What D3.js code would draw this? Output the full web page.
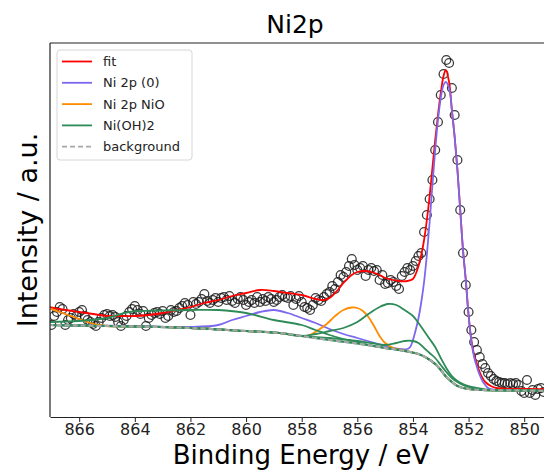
<!DOCTYPE html>
<html>
<head>
<meta charset="utf-8">
<script src="https://cdn.jsdelivr.net/npm/d3@7"></script>
<style>
  body { margin: 0; background: #fff; }
  text { font-family: "DejaVu Sans", sans-serif; }
</style>
</head>
<body>
<svg id="chart" width="544" height="472"></svg>
<script>
// measured points (binding energy / eV, intensity / a.u.)
const pointE = [
  867.0, 866.9, 866.8, 866.7, 866.6, 866.5, 866.4, 866.3, 866.2, 866.1,
  866.0, 865.9, 865.8, 865.7, 865.6, 865.5, 865.4, 865.3, 865.2, 865.1,
  865.0, 864.9, 864.8, 864.7, 864.6, 864.5, 864.4, 864.3, 864.2, 864.1,
  864.0, 863.9, 863.8, 863.7, 863.6, 863.5, 863.4, 863.3, 863.2, 863.1,
  863.0, 862.9, 862.8, 862.7, 862.6, 862.5, 862.4, 862.3, 862.2, 862.1,
  862.0, 861.9, 861.8, 861.7, 861.6, 861.5, 861.4, 861.3, 861.2, 861.1,
  861.0, 860.9, 860.8, 860.7, 860.6, 860.5, 860.4, 860.3, 860.2, 860.1,
  860.0, 859.9, 859.8, 859.7, 859.6, 859.5, 859.4, 859.3, 859.2, 859.1,
  859.0, 858.9, 858.8, 858.7, 858.6, 858.5, 858.4, 858.3, 858.2, 858.1,
  858.0, 857.9, 857.8, 857.7, 857.6, 857.5, 857.4, 857.3, 857.2, 857.1,
  857.0, 856.9, 856.8, 856.7, 856.6, 856.5, 856.4, 856.3, 856.2, 856.1,
  856.0, 855.9, 855.8, 855.7, 855.6, 855.5, 855.4, 855.3, 855.2, 855.1,
  855.0, 854.9, 854.8, 854.7, 854.6, 854.5, 854.4, 854.3, 854.2, 854.1,
  854.0, 853.9, 853.8, 853.7, 853.6, 853.5, 853.4, 853.3, 853.2, 853.1,
  853.0, 852.9, 852.8, 852.7, 852.6, 852.5, 852.4, 852.3, 852.2, 852.1,
  852.0, 851.9, 851.8, 851.7, 851.6, 851.5, 851.4, 851.3, 851.2, 851.1,
  851.0, 850.9, 850.8, 850.7, 850.6, 850.5, 850.4, 850.3, 850.2, 850.1,
  850.0, 849.9, 849.8, 849.7, 849.6, 849.5, 849.4, 849.3
];
const pointI = [
  92, 101, 105, 110, 108, 92, 97, 99, 103, 101,
  105, 107, 101, 97, 95, 93, 91, 95, 99, 102,
  103, 101, 102, 100, 95, 91, 97, 101, 105, 108,
  111, 107, 103, 106, 91, 99, 102, 104, 105, 103,
  106, 99, 101, 107, 105, 106, 109, 111, 114, 112,
  102, 115, 113, 115, 118, 123, 116, 114, 117, 119,
  115, 119, 120, 117, 121, 116, 114, 118, 120, 117,
  112, 115, 117, 114, 120, 115, 118, 116, 120, 118,
  115, 117, 120, 122, 120, 119, 121, 112, 118, 121,
  115, 110, 109, 107, 112, 119, 117, 116, 120, 123,
  125, 131, 128, 135, 142, 140, 145, 151, 158, 152,
  147, 149, 151, 141, 147, 149, 146, 147, 137, 142,
  133, 134, 137, 135, 131, 128, 141, 145, 149, 147,
  151, 156, 161, 164, 185, 202, 218, 237, 267, 295,
  322, 343, 357, 354, 329, 302, 257, 207, 164, 132,
  105, 87, 75, 67, 60, 53, 49, 44, 41, 38,
  36, 35, 34, 34, 33, 34, 33, 34, 32, 26,
  24, 37, 24, 27, 22, 28, 29, 25
];

// fitted curves, [energy, intensity]
const fitCurve = [
  [867.1, 110], [866.5, 107], [866, 105], [865.5, 103], [865, 101], [864.5, 101],
  [864, 101], [863.5, 102], [863, 104], [862.5, 107], [862, 110], [861.5, 114],
  [861, 117], [860.5, 121], [860, 124], [859.5, 127], [859, 126], [858.5, 124],
  [858, 122], [857.5, 118], [857.2, 117], [857, 119], [856.7, 127], [856.5, 134],
  [856.2, 142], [856, 145], [855.7, 146], [855.5, 145], [855.2, 142], [855, 139],
  [854.5, 136], [854.2, 136], [854, 138], [853.9, 143], [853.8, 151], [853.7, 162],
  [853.6, 177], [853.5, 197], [853.4, 221], [853.3, 249], [853.2, 277], [853.1, 302],
  [853, 324], [852.9, 341], [852.82, 347], [852.7, 335], [852.6, 307], [852.5, 280],
  [852.4, 247], [852.3, 207], [852.2, 167], [852.1, 137], [852, 102], [851.9, 77],
  [851.8, 62], [851.7, 53], [851.6, 45], [851.5, 39], [851.4, 35], [851.2, 31],
  [851, 29], [850, 28], [849, 28]
];
const ni0Curve = [
  [867.1, 92], [864, 91], [862, 90], [861, 92], [860.5, 97], [860, 101],
  [859.5, 105], [859, 107], [858.5, 104], [858, 99], [857.5, 94], [857, 88],
  [856.5, 83], [856, 79], [855.5, 75], [855, 71], [854.5, 68], [854.2, 68],
  [854.1, 70], [854, 77], [853.9, 87], [853.8, 99], [853.7, 115], [853.6, 135],
  [853.5, 162], [853.4, 195], [853.3, 232], [853.2, 267], [853.1, 297], [853, 319],
  [852.9, 332], [852.82, 335], [852.7, 329], [852.6, 307], [852.5, 280], [852.4, 247],
  [852.3, 207], [852.2, 167], [852.1, 137], [852, 102], [851.9, 76], [851.8, 60],
  [851.7, 50], [851.6, 42], [851.5, 36], [851.4, 32], [851.3, 29], [851.2, 28],
  [851, 27], [850, 26.5], [849, 26]
];
const nioCurve = [
  [867.1, 109], [866.7, 105], [866.3, 101], [866, 98], [865.7, 95], [865.4, 92.5],
  [865, 91], [864, 90.5], [862, 89], [860, 86], [858.8, 84], [858, 81],
  [857.7, 82], [857.4, 87], [857.1, 93], [856.8, 101], [856.5, 107], [856.2, 109.5],
  [856, 109], [855.8, 106], [855.6, 100], [855.4, 91], [855.2, 81], [855, 74],
  [854.7, 69], [854.4, 67], [854.1, 65], [853.8, 63], [853.5, 59], [853.2, 53],
  [853, 47], [852.8, 40], [852.6, 35], [852.4, 31], [852.2, 29], [852, 28],
  [851.5, 27], [850, 26.5], [849, 26]
];
const ohCurveA = [
  [867.1, 95], [866, 96], [865, 99], [864.2, 105], [863, 106.5], [862, 107],
  [861, 107], [860, 104], [859, 97], [858, 92], [857.5, 87], [857, 82],
  [856.5, 78], [856, 75], [855.5, 71.5], [855, 69], [854.5, 67], [853.8, 63],
  [853.5, 59], [853.2, 53], [853, 47], [852.8, 40], [852.6, 35], [852.4, 31],
  [852.2, 29], [852, 28], [851.5, 27], [850, 26.5], [849, 26]
];
const ohCurveB = [
  [867.1, 92], [864, 90.5], [862, 89], [860, 86], [858.8, 84], [858, 81],
  [857.5, 83], [857, 86], [856.5, 89], [856, 95], [855.6, 103], [855.2, 110],
  [854.9, 113], [854.6, 112], [854.3, 107], [854, 101], [853.8, 94], [853.6, 86],
  [853.4, 78], [853.2, 70], [853, 59], [852.8, 49], [852.6, 41], [852.4, 36],
  [852.2, 33], [852, 31], [851.8, 29.5], [851.5, 28], [851.2, 27], [850, 26.5],
  [849, 26]
];
const ohCurveC = [
  [867.1, 92], [864, 90.5], [862, 89], [860, 86], [858.8, 84], [858, 81],
  [857, 79], [856, 76], [855.5, 74], [855, 72], [854.6, 74], [854.3, 76],
  [854, 76], [853.8, 74], [853.6, 69], [853.4, 64], [853.2, 59], [853, 52],
  [852.8, 45], [852.6, 39], [852.4, 35], [852.2, 32], [852, 30], [851.8, 28],
  [851.5, 27], [850, 26.5], [849, 26]
];
const bgCurve = [
  [867.1, 92], [866, 91.5], [864, 90.5], [862, 89], [860, 86], [858.8, 84],
  [858, 81], [857, 77], [856, 73.5], [855.2, 70], [854.5, 67], [853.8, 63],
  [853.5, 59], [853.2, 53], [853, 47], [852.8, 40], [852.6, 35], [852.4, 31],
  [852.2, 29], [852, 28], [851.5, 27], [850, 26.5], [849, 26]
];

const xTicks = [866, 864, 862, 860, 858, 856, 854, 852, 850];
const legendNames = ["fit", "Ni 2p (0)", "Ni 2p NiO", "Ni(OH)2", "background"];
const legendColors = ["#ff0000", "#7b68ee", "#ff8c00", "#2e8b57", "#a8a8a8"];

const svg = d3.select("#chart");
const plotL = 50, plotR = 552, plotT = 43, plotB = 417;

const x = d3.scaleLinear().domain([867.05, 849.0]).range([plotL, plotR]);
const y = d3.scaleLinear().domain([0, 374]).range([plotB, plotT]);

svg.append("defs").append("clipPath").attr("id", "plot")
  .append("rect").attr("x", plotL).attr("y", plotT)
  .attr("width", plotR - plotL).attr("height", plotB - plotT);

const plot = svg.append("g").attr("clip-path", "url(#plot)");

// data points
plot.selectAll("circle.pt")
  .data(pointE.map((e, i) => [e, pointI[i]]))
  .enter().append("circle")
  .attr("class", "pt")
  .attr("cx", d => x(d[0]))
  .attr("cy", d => y(d[1]))
  .attr("r", 4.4)
  .attr("fill", "none")
  .attr("stroke", "#1a1a1a")
  .attr("stroke-width", 1.3)
  .attr("opacity", 0.85);

const line = d3.line()
  .x(d => x(d[0]))
  .y(d => y(d[1]))
  .curve(d3.curveCatmullRom.alpha(0.5));

function drawCurve(data, color, width, dash) {
  const p = plot.append("path")
    .datum(data)
    .attr("d", line)
    .attr("fill", "none")
    .attr("stroke", color)
    .attr("stroke-width", width);
  if (dash) p.attr("stroke-dasharray", dash);
}

drawCurve(fitCurve, legendColors[0], 1.8);
drawCurve(ni0Curve, legendColors[1], 1.8);
drawCurve(nioCurve, legendColors[2], 1.8);
drawCurve(ohCurveA, legendColors[3], 1.8);
drawCurve(ohCurveB, legendColors[3], 1.8);
drawCurve(ohCurveC, legendColors[3], 1.8);
drawCurve(bgCurve, legendColors[3], 2.2);
drawCurve(bgCurve, legendColors[4], 2.2, "5,3");

// spines
svg.append("line").attr("x1", plotL).attr("x2", plotR).attr("y1", plotT).attr("y2", plotT)
  .attr("stroke", "#222").attr("stroke-width", 1.2);
svg.append("line").attr("x1", plotL).attr("x2", plotL).attr("y1", plotT).attr("y2", plotB)
  .attr("stroke", "#222").attr("stroke-width", 1.2);

const xAxis = svg.append("g")
  .attr("transform", "translate(0," + plotB + ")")
  .call(d3.axisBottom(x).tickValues(xTicks).tickSize(5).tickSizeOuter(0).tickPadding(2));
xAxis.select(".domain").attr("stroke", "#222").attr("stroke-width", 1.2);
xAxis.selectAll(".tick line").attr("stroke", "#222");
xAxis.selectAll(".tick text")
  .attr("font-family", "DejaVu Sans")
  .attr("font-size", 16)
  .attr("fill", "#222");

// labels
svg.append("text").attr("x", 295).attr("y", 33)
  .attr("text-anchor", "middle").attr("font-size", 25).attr("fill", "#000")
  .text("Ni2p");
svg.append("text").attr("x", 301).attr("y", 464)
  .attr("text-anchor", "middle").attr("font-size", 26).attr("fill", "#000")
  .text("Binding Energy / eV");
svg.append("text")
  .attr("transform", "translate(37," + (plotT + plotB) / 2 + ") rotate(-90)")
  .attr("text-anchor", "middle").attr("font-size", 27).attr("fill", "#000")
  .text("Intensity / a.u.");

// legend
const lg = svg.append("g");
lg.append("rect").attr("x", 57).attr("y", 50).attr("width", 135).attr("height", 110)
  .attr("rx", 3).attr("fill", "#fff").attr("fill-opacity", 0.8)
  .attr("stroke", "#d6d6d6");
legendNames.forEach((name, i) => {
  const ly = 61.5 + i * 21.3;
  const l = lg.append("line").attr("x1", 62).attr("x2", 92).attr("y1", ly).attr("y2", ly)
    .attr("stroke", legendColors[i]).attr("stroke-width", 1.8);
  if (i === 4) l.attr("stroke-dasharray", "5,3");
  lg.append("text").attr("x", 103).attr("y", ly).attr("dy", "0.35em")
    .attr("font-size", 13).attr("fill", "#222").text(name);
});
</script>
</body>
</html>
